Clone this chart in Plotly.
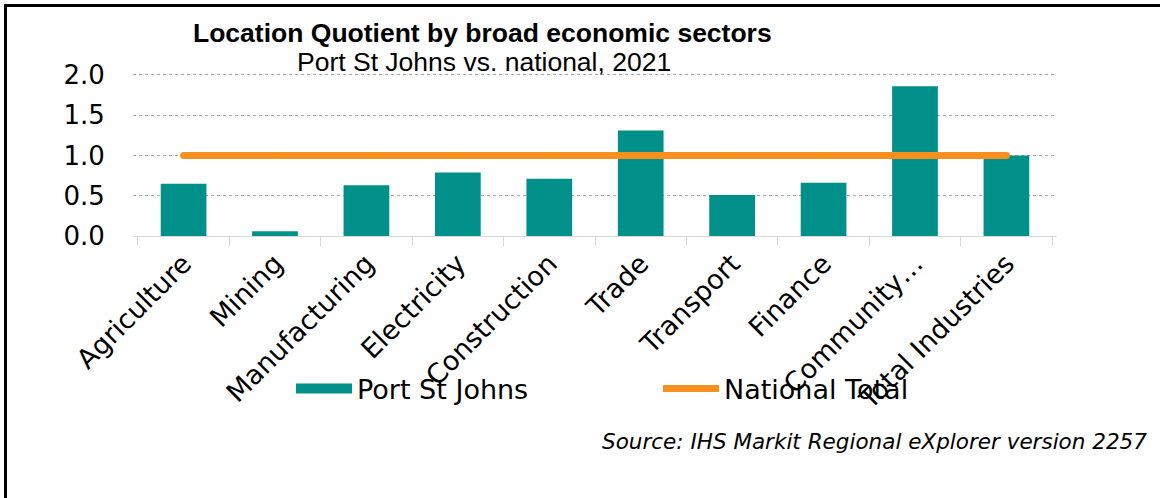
import plotly.graph_objects as go

categories = ["Agriculture", "Mining", "Manufacturing", "Electricity", "Construction",
              "Trade", "Transport", "Finance", "Community…", "Total Industries"]
port_st_johns = [0.65, 0.06, 0.63, 0.79, 0.71, 1.31, 0.51, 0.66, 1.86, 1.00]
national_total = [1.0] * len(categories)
y_ticks = [0.0, 0.5, 1.0, 1.5, 2.0]
y_tick_labels = ["0.0", "0.5", "1.0", "1.5", "2.0"]

W, H = 1160, 498
L, R, T, B = 133, 103, 72, 262
PW, PH = W - L - R, H - T - B


def px_x(x):
    return (x - L) / PW


def px_y(y):
    return (H - B - y) / PH


TEAL = "#00908A"
ORANGE = "#F7901E"

fig = go.Figure()
fig.add_trace(go.Bar(
    x=categories, y=port_st_johns, name="Port St Johns",
    marker=dict(color=TEAL, line=dict(width=0)), showlegend=False,
))
# legend entry drawn as a wide teal swatch (no data plotted)
fig.add_trace(go.Scatter(
    x=[None], y=[None], name="Port St Johns", mode="lines",
    line=dict(color=TEAL, width=15), hoverinfo="skip",
))
fig.add_trace(go.Scatter(
    x=categories, y=national_total, name="National Total", mode="lines+markers",
    line=dict(color=ORANGE, width=7),
    marker=dict(color=ORANGE, size=7, line=dict(width=0)),
))

fig.update_layout(
    width=W, height=H,
    margin=dict(l=L, r=R, t=T, b=B, autoexpand=False),
    paper_bgcolor="white", plot_bgcolor="white",
    bargap=0.5,
    font=dict(family="DejaVu Sans", color="#000000"),
    showlegend=True,
    legend=dict(
        orientation="h", x=px_x(291), y=px_y(389), xanchor="left", yanchor="middle",
        font=dict(size=27, family="DejaVu Sans", color="#000000"),
        entrywidth=296, entrywidthmode="pixels", itemwidth=56,
        bgcolor="rgba(0,0,0,0)",
    ),
    xaxis=dict(
        type="category", categoryorder="array", categoryarray=categories,
        tickangle=-45, tickfont=dict(size=27, family="DejaVu Sans"),
        showline=True, linecolor="#D9D9D9", linewidth=1,
        ticks="outside", tickson="boundaries", ticklen=9, tickcolor="#D9D9D9",
        showgrid=False, zeroline=False,
    ),
    xaxis2=dict(
        type="category", categoryorder="array", categoryarray=categories,
        overlaying="x", matches="x", anchor="free", position=0, side="top",
        ticks="outside", tickson="boundaries", ticklen=8, tickcolor="#D9D9D9",
        showticklabels=False, showgrid=False, showline=False, zeroline=False,
    ),
    yaxis=dict(
        range=[0, 2.037], tickvals=y_ticks, ticktext=y_tick_labels,
        tickfont=dict(size=26, family="DejaVu Sans"),
        showgrid=True, gridcolor="#A6A6A6", gridwidth=1, griddash="dot",
        zeroline=False, showline=False,
        ticks="outside", ticklen=22, tickcolor="rgba(0,0,0,0)",
    ),
    annotations=[
        dict(text="<b>Location Quotient by broad economic sectors</b>", x=px_x(482), y=px_y(33),
             xref="paper", yref="paper", showarrow=False, xanchor="center", yanchor="middle",
             font=dict(family="Liberation Sans", size=26.5, color="#000000")),
        dict(text="Port St Johns vs. national, 2021", x=px_x(484), y=px_y(62),
             xref="paper", yref="paper", showarrow=False, xanchor="center", yanchor="middle",
             font=dict(family="Liberation Sans", size=26.5, color="#000000")),
        dict(text="<i>Source: IHS Markit Regional eXplorer version 2257</i>", x=px_x(1149), y=px_y(442),
             xref="paper", yref="paper", showarrow=False, xanchor="right", yanchor="middle",
             font=dict(family="DejaVu Sans", size=21.5, color="#000000")),
    ],
    shapes=[
        dict(type="line", xref="paper", yref="paper", x0=px_x(4), x1=px_x(W + 5),
             y0=px_y(5.5), y1=px_y(5.5), line=dict(color="black", width=3)),
        dict(type="line", xref="paper", yref="paper", x0=px_x(5.5), x1=px_x(5.5),
             y0=px_y(4), y1=px_y(H + 5), line=dict(color="black", width=3)),
    ],
)

fig.write_html(
    "out.html",
    config={"displayModeBar": False},
    post_script="document.body.style.margin='0px';document.body.style.overflow='hidden';",
)
